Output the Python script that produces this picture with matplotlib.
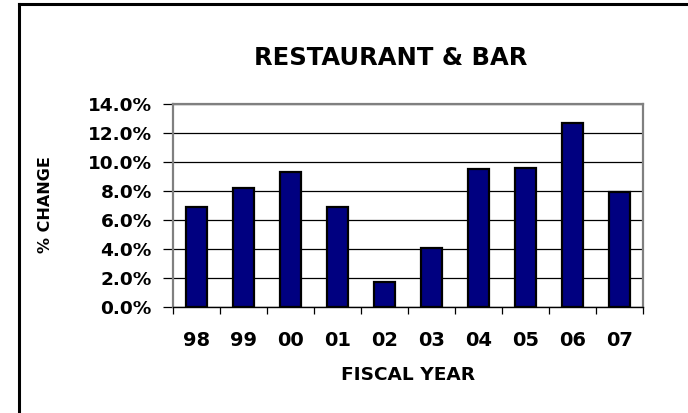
import matplotlib
matplotlib.use('Agg')
import matplotlib.pyplot as plt
from matplotlib.lines import Line2D
import numpy as np

# data
years = ['98', '99', '00', '01', '02', '03', '04', '05', '06', '07']
pct_change = [6.9, 8.2, 9.3, 6.9, 1.7, 4.1, 9.5, 9.6, 12.7, 7.9]
y_ticks = [0, 2, 4, 6, 8, 10, 12, 14]

plt.rcParams['font.family'] = ['DejaVu Sans']
plt.rcParams['font.weight'] = 'bold'

fig = plt.figure(figsize=(6.88, 4.13), dpi=100)
ax = fig.add_axes([172.7 / 688, 1 - 307 / 413, 470 / 688, 203 / 413])

x = np.arange(len(years))
ax.bar(x, pct_change, width=0.45, color='#000080', edgecolor='black', linewidth=1.6, zorder=3)

ax.set_xlim(-0.5, len(years) - 0.5)
ax.set_ylim(0, 14)
ax.set_yticks(y_ticks)
ax.set_yticklabels([f'{v:.1f}%' for v in y_ticks])
ax.set_xticks(x)
ax.set_xticklabels(years)
ax.set_xticks(np.arange(-0.5, len(years)), minor=True)

ax.yaxis.grid(True, color='black', linewidth=0.9, zorder=0)
ax.tick_params(axis='y', which='major', length=7, width=0.9, pad=8, labelsize=13.3, color='black')
ax.tick_params(axis='x', which='major', length=0, pad=17, labelsize=14)
ax.tick_params(axis='x', which='minor', length=5, width=0.9, color='black')

for side in ['left', 'top', 'right']:
    ax.spines[side].set_color('#808080')
    ax.spines[side].set_linewidth(1.6)
ax.spines['bottom'].set_color('black')
ax.spines['bottom'].set_linewidth(1.0)

ax.set_ylabel('% CHANGE', fontsize=11.5, fontweight='bold', va='center')
ax.yaxis.set_label_coords(-0.2717, 0.507)
ax.set_xlabel('FISCAL YEAR', fontsize=13.3, fontweight='bold', va='center')
ax.xaxis.set_label_coords(0.5, -0.3335)

fig.text(391 / 688, 1 - 58.4 / 413, 'RESTAURANT & BAR', fontsize=17.5, fontweight='bold',
         ha='center', va='center')

# outer frame (left and top edges visible)
fig.add_artist(Line2D([18.5 / 688, 18.5 / 688], [0, 1 - 4 / 413], transform=fig.transFigure,
                      color='black', linewidth=2.2))
fig.add_artist(Line2D([18.5 / 688, 1], [1 - 4 / 413, 1 - 4 / 413], transform=fig.transFigure,
                      color='black', linewidth=2.2))

fig.savefig('out.png', dpi=100)
